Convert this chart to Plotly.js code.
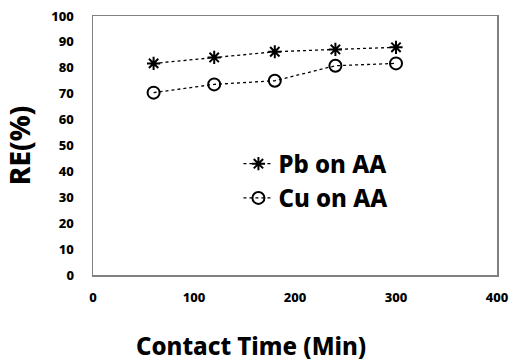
<!DOCTYPE html>
<html><head><meta charset="utf-8">
<script src="https://cdn.plot.ly/plotly-3.0.1.min.js"></script>
<style>body{margin:0;background:#fff}#c{width:509px;height:364px}</style>
</head><body><div id="c"></div>
<script>
const time = [60, 120, 180, 240, 300];
const pb = [81.7, 84.0, 86.2, 87.1, 87.9];
const cu = [70.4, 73.6, 75.0, 80.8, 81.7];
const names = ["Pb on AA", "Cu on AA"];
const xTitle = "Contact Time (Min)";
const yTitle = "RE(%)";
const F = "Noto Sans, DejaVu Sans, sans-serif";
const traces = [
  {x: time, y: pb, name: names[0], mode: "lines+markers",
   line: {color: "#000", width: 1.3, dash: "dot"},
   marker: {symbol: "asterisk-open", size: 11, color: "#000", line: {color: "#000", width: 2}}},
  {x: time, y: cu, name: names[1], mode: "lines+markers",
   line: {color: "#000", width: 1.3, dash: "dot"},
   marker: {symbol: "circle-open", size: 12, color: "#000", line: {color: "#000", width: 2}}}
];
const layout = {
  width: 509, height: 364,
  margin: {l: 93, r: 12, t: 16, b: 89},
  paper_bgcolor: "#fff", plot_bgcolor: "#fff",
  showlegend: true,
  legend: {x: 0.36, y: 0.515, xanchor: "left", yanchor: "top", bgcolor: "rgba(0,0,0,0)",
           font: {family: F, size: 24, color: "#000", weight: 800}, tracegroupgap: 0},
  xaxis: {range: [0, 400], tickvals: [0, 100, 200, 300, 400], showgrid: false, zeroline: false,
          showline: true, linecolor: "#808080", linewidth: 1.5, mirror: true, ticks: "",
          tickfont: {family: F, size: 13, color: "#000", weight: 800}, ticklabelstandoff: 10},
  yaxis: {range: [0, 100], dtick: 10, showgrid: false, zeroline: false,
          showline: true, linecolor: "#808080", linewidth: 1.5, mirror: true, ticks: "",
          tickfont: {family: F, size: 13, color: "#000", weight: 800}, ticklabelstandoff: 15,
          title: {text: yTitle, font: {family: F, size: 28, color: "#000", weight: 800}, standoff: 12}},
  annotations: [{text: xTitle, xref: "paper", yref: "paper", x: 0, y: 0,
                 xanchor: "center", yanchor: "middle", showarrow: false,
                 font: {family: F, size: 24, color: "#000", weight: 800}}]
};
layout.annotations[0].x = (251 - 93) / 404;
layout.annotations[0].y = -(345 - 275) / 259;
Plotly.newPlot("c", traces, layout, {displayModeBar: false, staticPlot: true});
</script></body></html>
